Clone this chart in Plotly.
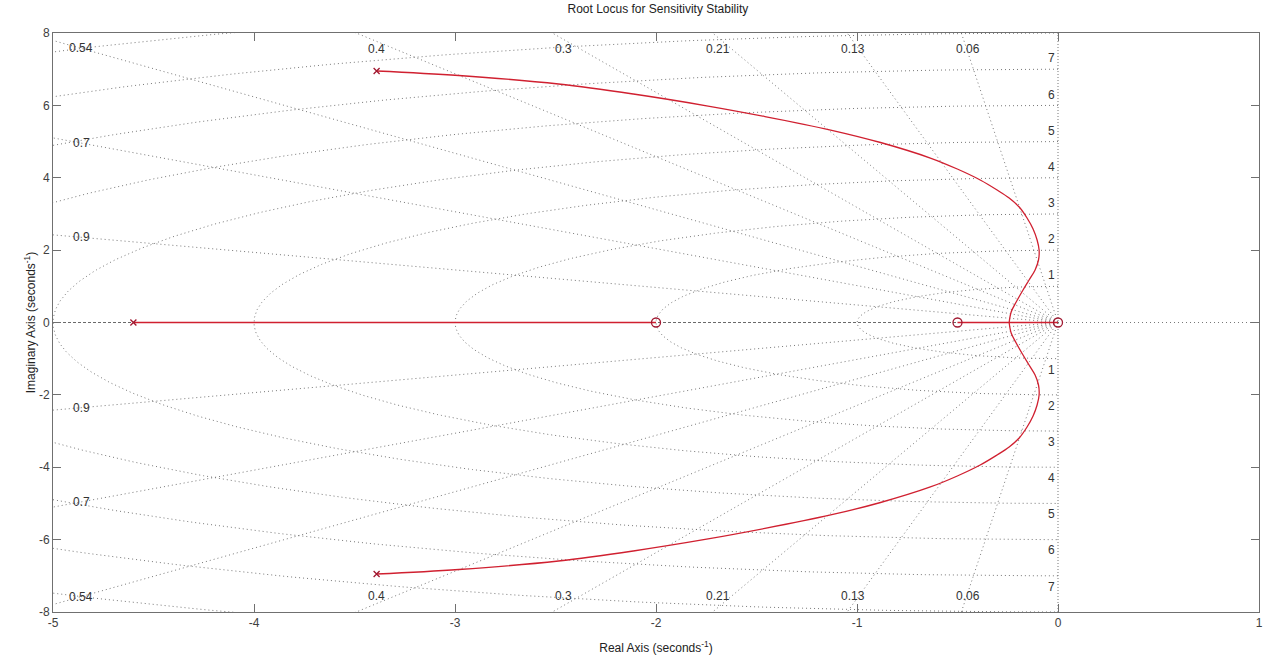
import numpy as np
import plotly.graph_objects as go

# ---- data ----
poles_re = [-4.6, -3.39, -3.39]
poles_im = [0.0, 6.95, -6.95]
zeros_re = [-2.0, -0.5, 0.0]
zeros_im = [0.0, 0.0, 0.0]

# complex branches of the locus (upper and lower)
upper_re = [-3.39, -2.981, -2.485, -2.113, -1.741, -1.458, -1.131, -0.883, -0.635, -0.501,
            -0.387, -0.303, -0.243, -0.193, -0.154, -0.124, -0.104, -0.094, -0.097,
            -0.114, -0.144, -0.174, -0.208, -0.233, -0.243]
upper_im = [6.95, 6.825, 6.590, 6.314, 5.982, 5.692, 5.319, 4.974, 4.545, 4.241,
            3.938, 3.661, 3.440, 3.191, 2.888, 2.584, 2.280, 2.003, 1.727,
            1.451, 1.174, 0.898, 0.566, 0.290, 0.0]
lower_re = [-3.39, -2.981, -2.485, -2.113, -1.741, -1.458, -1.131, -0.883, -0.635, -0.501,
            -0.387, -0.303, -0.243, -0.193, -0.154, -0.124, -0.104, -0.094, -0.097,
            -0.114, -0.144, -0.174, -0.208, -0.233, -0.243]
lower_im = [-6.95, -6.825, -6.590, -6.314, -5.982, -5.692, -5.319, -4.974, -4.545, -4.241,
            -3.938, -3.661, -3.440, -3.191, -2.888, -2.584, -2.280, -2.003, -1.727,
            -1.451, -1.174, -0.898, -0.566, -0.290, 0.0]
# real-axis segments of the locus
real_seg1 = [-4.6, -2.0]
real_seg2 = [-0.5, 0.0]

# s-plane grid values
zeta_vals = [0.06, 0.13, 0.21, 0.3, 0.4, 0.54, 0.7, 0.9]
zeta_top_labels = ["0.4", "0.3", "0.21", "0.13", "0.06"]
zeta_top_x = [-3.39, -2.46, -1.69, -1.02, -0.45]
zeta_left_labels = ["0.54", "0.7", "0.9"]
zeta_left_vals = [0.54, 0.7, 0.9]
wn_vals = [1, 2, 3, 4, 5, 6, 7, 8, 9, 10]
wn_labels = ["1", "2", "3", "4", "5", "6", "7"]

x_ticks = [-5, -4, -3, -2, -1, 0, 1]
y_ticks = [-8, -6, -4, -2, 0, 2, 4, 6, 8]

GRID = "rgba(105,105,105,0.9)"
RED = "#d02030"
DARKRED = "#a01830"
TXT = "#333333"

fig = go.Figure()

# damping rays
R = 20
for z in zeta_vals:
    s = np.sqrt(1 - z * z)
    for sign in (1, -1):
        fig.add_trace(go.Scatter(x=[0, -z * R], y=[0, sign * s * R], mode="lines",
                                 line=dict(color=GRID, width=1, dash="1px,3px"),
                                 hoverinfo="skip", showlegend=False))
# natural-frequency semicircles (left half-plane)
t = np.linspace(np.pi / 2, 3 * np.pi / 2, 400)
for w in wn_vals:
    fig.add_trace(go.Scatter(x=w * np.cos(t), y=w * np.sin(t), mode="lines",
                             line=dict(color=GRID, width=1, dash="1px,3px"),
                             hoverinfo="skip", showlegend=False))
# real axis (zeta = 1) and imaginary axis
fig.add_trace(go.Scatter(x=[-5, 0], y=[0, 0], mode="lines",
                         line=dict(color="rgba(90,90,90,0.9)", width=1, dash="3px,2px"),
                         hoverinfo="skip", showlegend=False))
fig.add_trace(go.Scatter(x=[0, 1], y=[0, 0], mode="lines",
                         line=dict(color=GRID, width=1, dash="1px,3px"),
                         hoverinfo="skip", showlegend=False))
fig.add_trace(go.Scatter(x=[0, 0], y=[-8, 8], mode="lines",
                         line=dict(color=GRID, width=1, dash="1px,2px"),
                         hoverinfo="skip", showlegend=False))

# locus
for xs, ys in ((upper_re, upper_im), (lower_re, lower_im)):
    fig.add_trace(go.Scatter(x=xs, y=ys, mode="lines",
                             line=dict(color=RED, width=1.3, shape="spline", smoothing=1.0),
                             hoverinfo="skip", showlegend=False))
for seg in (real_seg1, real_seg2):
    fig.add_trace(go.Scatter(x=seg, y=[0, 0], mode="lines",
                             line=dict(color=RED, width=1.3),
                             hoverinfo="skip", showlegend=False))
fig.add_trace(go.Scatter(x=poles_re, y=poles_im, mode="markers",
                         marker=dict(symbol="x-thin", size=6,
                                     line=dict(color=DARKRED, width=1.3)),
                         hoverinfo="skip", showlegend=False))
fig.add_trace(go.Scatter(x=zeros_re, y=zeros_im, mode="markers",
                         marker=dict(symbol="circle-open", size=9, color=DARKRED,
                                     line=dict(color=DARKRED, width=1.3)),
                         hoverinfo="skip", showlegend=False))

# grid labels
ann = []
for lab, xv in zip(zeta_top_labels, zeta_top_x):
    for yv in (7.55, -7.55):
        ann.append(dict(x=xv, y=yv, text=lab, showarrow=False,
                        font=dict(size=12, color=TXT)))
for lab, z in zip(zeta_left_labels, zeta_left_vals):
    yv = 4.86 * np.sqrt(1 - z * z) / z
    for sign in (1, -1):
        ann.append(dict(x=-4.86, y=sign * yv, text=lab, showarrow=False,
                        font=dict(size=12, color=TXT)))
for lab in wn_labels:
    w = float(lab)
    for sign in (1, -1):
        ann.append(dict(x=-0.03, y=sign * (w + 0.3), text=lab, showarrow=False,
                        font=dict(size=12, color=TXT)))
fig.update_layout(annotations=ann)

axis_common = dict(showline=True, linecolor="#707070", linewidth=1, mirror="ticks",
                   ticks="inside", ticklen=8, tickcolor="#707070", showgrid=False,
                   zeroline=False, tickfont=dict(size=12, color="#404040"))
fig.update_xaxes(range=[-5, 1], tickvals=x_ticks, ticktext=[str(v) for v in x_ticks],
                 title=dict(text="Real Axis (seconds<sup>-1</sup>)", standoff=14,
                            font=dict(size=12, color="#222222")), **axis_common)
fig.update_yaxes(range=[-8, 8], tickvals=y_ticks, ticktext=[str(v) for v in y_ticks],
                 title=dict(text="Imaginary Axis (seconds<sup>-1</sup>)", standoff=0,
                            font=dict(size=12, color="#222222")), **axis_common)

fig.update_layout(
    width=1270, height=665,
    margin=dict(l=53, r=7, t=33, b=53),
    paper_bgcolor="white", plot_bgcolor="white",
    font=dict(family="Liberation Sans, Arial, sans-serif"),
    title=dict(text="Root Locus for Sensitivity Stability", x=0.518, xanchor="center",
               y=0.993, yanchor="top", font=dict(size=12, color="#222222")),
)

fig.write_html("out.html")
